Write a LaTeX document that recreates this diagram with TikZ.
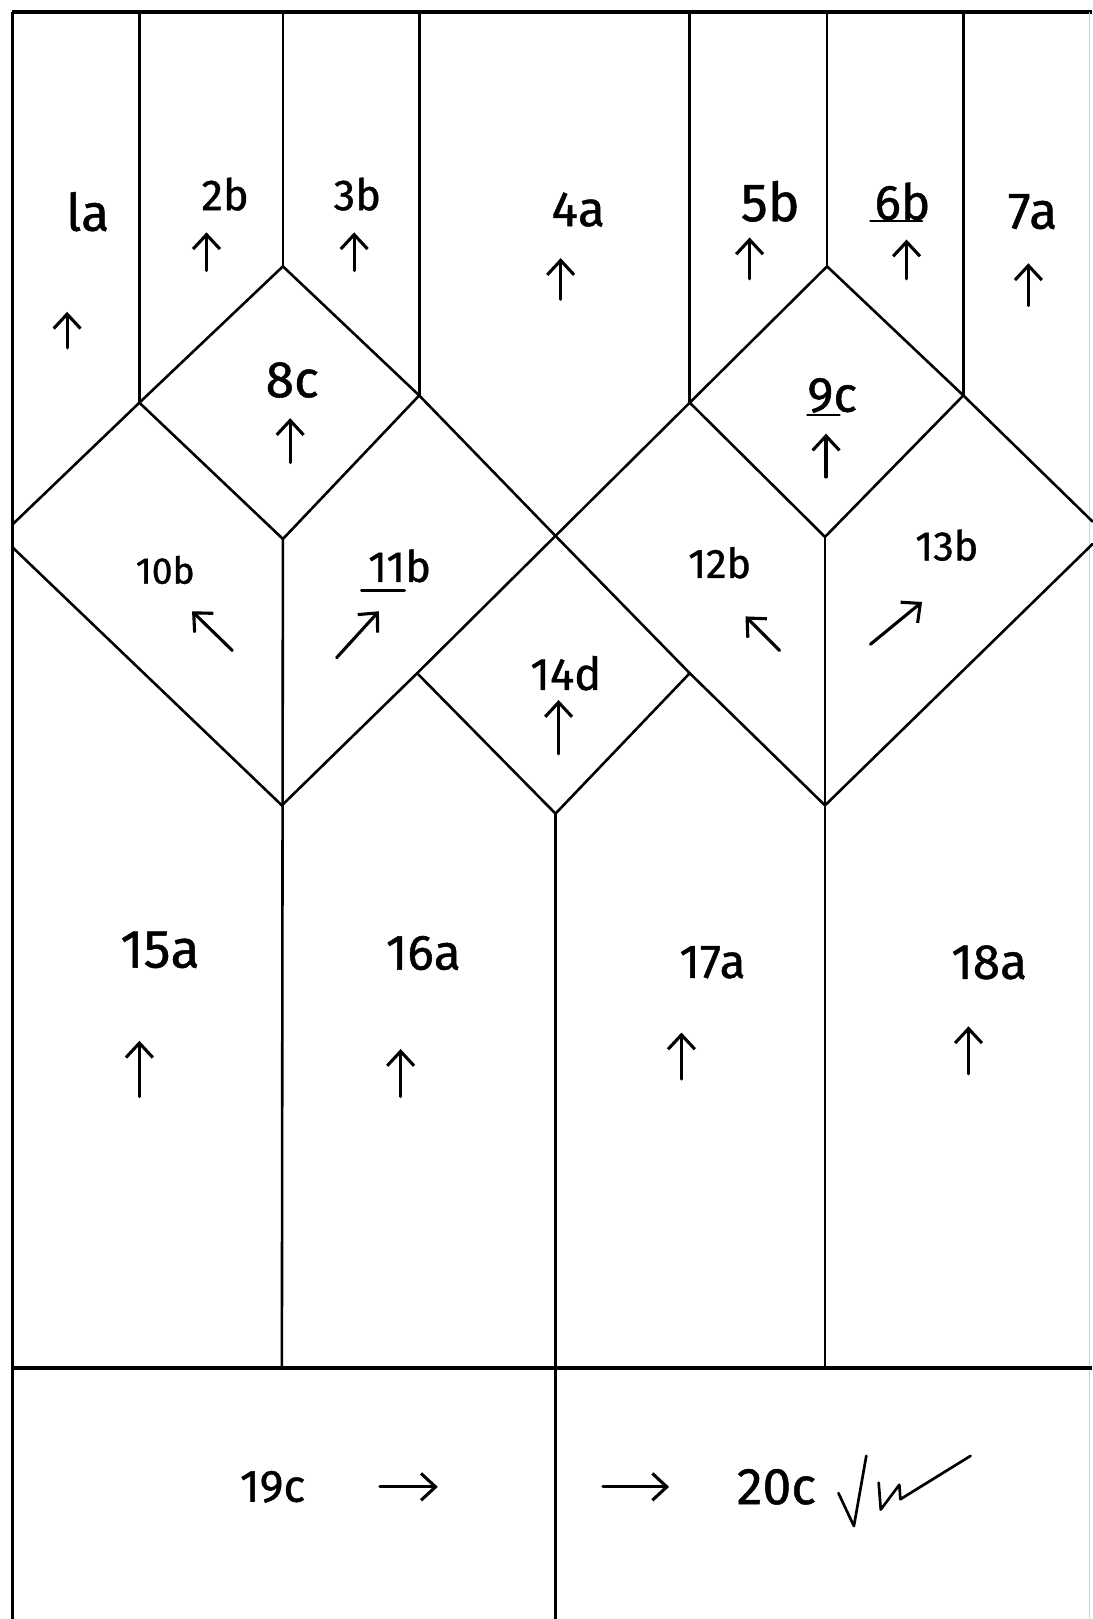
\documentclass[tikz,border=0pt]{standalone}
\usepackage{fontspec}
\newfontfamily\hand{Fira Sans}[FakeBold=0.9]
\usetikzlibrary{arrows.meta}
\begin{document}
\begin{tikzpicture}[x=1pt,y=-1pt,
  seam/.style={line width=2.5pt, line join=round, line cap=round},
  frame/.style={line width=3.8pt},
  lbl/.style={inner sep=0pt, font=\hand\fontsize{#1}{#1}\selectfont},
  lbl/.default=44,
  grain/.style={line width=3pt, line cap=round, -{Straight Barb[length=14pt,width=26pt,line width=3pt]}},
  uline/.style={line width=2.6pt, line cap=round}
]
\useasboundingbox (0,0) rectangle (1058,1568);
\fill[white] (0,0) rectangle (1058,1568);

% vertices
\coordinate (TL) at (12,12);
\coordinate (TR) at (1058,12);
\coordinate (BL) at (12,1568);
\coordinate (DL) at (12,1325);
\coordinate (DR) at (1058,1325);
\coordinate (A1) at (135,12);  \coordinate (A1b) at (135,390);
\coordinate (A2) at (274,12);  \coordinate (A2b) at (274,258);
\coordinate (A3) at (406,12);  \coordinate (A3b) at (406,383);
\coordinate (A4) at (668,12);  \coordinate (A4b) at (668,390);
\coordinate (A5) at (801,12);  \coordinate (A5b) at (801,258);
\coordinate (A6) at (933,12);  \coordinate (A6b) at (933,383);
\coordinate (D8) at (274,522);
\coordinate (D9) at (799,520);
\coordinate (LL1) at (12,508);
\coordinate (LL2) at (12,530);
\coordinate (RR1) at (1058,505);
\coordinate (RR2) at (1058,527);
\coordinate (V1) at (273,780);
\coordinate (V3) at (799,780);
\coordinate (X) at (538,519);
\coordinate (Q1) at (404,652);
\coordinate (Q2) at (668,652);
\coordinate (Q3) at (538,788);
\coordinate (B1) at (273,1325);
\coordinate (B2) at (538,1568);
\coordinate (B3) at (799,1325);

% frame
\draw[frame] (TL) -- (TR);
\draw[line width=2.8pt] (TL) -- (BL);
\draw[line width=1.2pt, black!18] (1055,12) -- (1055,1568);
\draw[frame] (DL) -- (DR);

% top strips
\draw[seam] (A1) -- (A1b);
\draw[seam] (A2) -- (A2b);
\draw[seam] (A3) -- (A3b);
\draw[seam] (A4) -- (A4b);
\draw[seam] (A5) -- (A5b);
\draw[seam] (A6) -- (A6b);

% diamonds 8c and 9c
\draw[seam] (A2b) -- (A1b) -- (D8) -- (A3b) -- cycle;
\draw[seam] (A5b) -- (A4b) -- (D9) -- (A6b) -- cycle;

% outer diagonals
\draw[seam] (A1b) -- (LL1);
\draw[seam] (LL2) -- (V1);
\draw[seam] (A6b) -- (RR1);
\draw[seam] (RR2) -- (V3);

% long crossing diagonals
\draw[seam] (A3b) -- (X) -- (Q2) -- (V3);
\draw[seam] (A4b) -- (X) -- (Q1) -- (V1);

% diamond 14d lower edges
\draw[seam] (Q1) -- (Q3) -- (Q2);

% verticals below
\draw[seam] (D8) -- (B1);
\draw[seam] (D9) -- (B3);
\draw[seam] (Q3) -- (B2);

% labels
\node[lbl=50] (l1) at (85,205) {la};
\node[lbl=42] (l2) at (218,188) {2b};
\node[lbl=42] (l3) at (346,188) {3b};
\node[lbl=48] (l4) at (560,203) {4a};
\node[lbl=52] (l5) at (746,195) {5b};
\node[lbl=48] (l6) at (874,195) {6b};
\node[lbl=50] (l7) at (1000,205) {7a};
\node[lbl=50] (l8) at (283,368) {8c};
\node[lbl=48] (l9) at (806,383) {9c};
\node[lbl=36] (l10) at (160,552) {10b};
\node[lbl=42] (l11) at (387,548) {11b};
\node[lbl=40] (l12) at (697,545) {12b};
\node[lbl=40] (l13) at (917,528) {13b};
\node[lbl=44] (l14) at (548,652) {14d};
\node[lbl=52] (l15) at (155,920) {15a};
\node[lbl=48] (l16) at (410,923) {16a};
\node[lbl=46] (l17) at (690,932) {17a};
\node[lbl=48] (l18) at (958,932) {18a};
\node[lbl=44] (l19) at (264,1440) {19c};
\node[lbl=50] (l20) at (752,1440) {20c};

% underlines
\draw[uline] (843,214) -- (893,214);
\draw[uline] (782,402) -- (813,402);
\draw[uline] (350,572) -- (392,572);

% grain arrows
\draw[grain] (65,337) -- (65,302);
\draw[grain] (200,262) -- (200,225);
\draw[grain] (343,262) -- (343,225);
\draw[grain] (543,290) -- (543,250);
\draw[grain] (726,270) -- (726,230);
\draw[grain] (878,270) -- (878,232);
\draw[grain] (996,296) -- (996,255);
\draw[grain] (281,448) -- (281,405);
\draw[grain] (800,462) -- (800,420);
\draw[grain] (225,630) -- (186,592);
\draw[grain] (326,637) -- (367,592);
\draw[grain] (755,630) -- (722,597);
\draw[grain] (843,624) -- (893,583);
\draw[grain] (541,730) -- (541,678);
\draw[grain] (135,1062) -- (135,1008);
\draw[grain] (388,1062) -- (388,1016);
\draw[grain] (660,1045) -- (660,1000);
\draw[grain] (938,1040) -- (938,994);
\draw[grain] (368,1440) -- (424,1440);
\draw[grain] (584,1440) -- (648,1440);

% check mark
\draw[line width=2.6pt, line cap=round, line join=round] (812,1446) -- (827,1478) -- (839,1410);
\draw[line width=2.6pt, line cap=round, line join=round] (851,1436) -- (853,1462) -- (871,1438) -- (872,1452) -- (940,1410);
\end{tikzpicture}
\end{document}
